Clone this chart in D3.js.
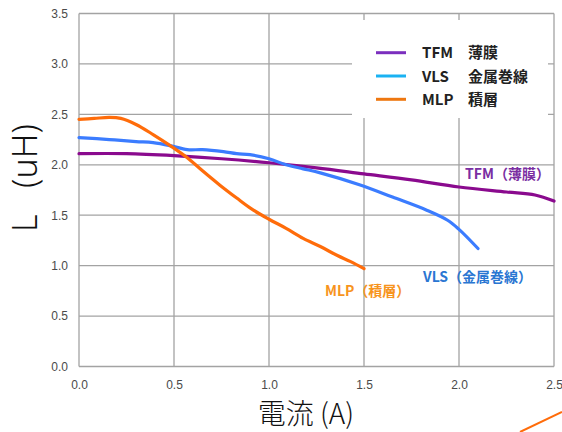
<!DOCTYPE html>
<html><head><meta charset="utf-8">
<script src="https://cdn.jsdelivr.net/npm/d3@7"></script>
<style>
html,body{margin:0;padding:0;background:#fff;overflow:hidden}
svg{display:block}
</style></head>
<body>
<svg id="chart" width="562" height="432"></svg>
<script>
// ---- data ----
const xTicks = [0, 0.5, 1.0, 1.5, 2.0, 2.5];
const yTicks = [0, 0.5, 1.0, 1.5, 2.0, 2.5, 3.0, 3.5];

const tfmX = [0, 0.25, 0.5, 0.75, 1.0, 1.25, 1.5, 1.75, 2.0, 2.25, 2.4, 2.5];
const tfmY = [2.11, 2.11, 2.09, 2.06, 2.02, 1.97, 1.91, 1.85, 1.78, 1.73, 1.70, 1.64];

const vlsX = [0, 0.16, 0.3, 0.39, 0.48, 0.57, 0.65, 0.76, 0.83, 0.9, 1.0, 1.09, 1.18, 1.27, 1.48, 1.65, 1.83, 1.94, 2.0, 2.1];
const vlsY = [2.27, 2.25, 2.23, 2.22, 2.19, 2.15, 2.15, 2.13, 2.11, 2.10, 2.06, 2.00, 1.96, 1.92, 1.80, 1.68, 1.55, 1.45, 1.36, 1.17];

const mlpX = [0, 0.08, 0.16, 0.22, 0.3, 0.39, 0.48, 0.57, 0.65, 0.74, 0.83, 0.91, 1.0, 1.09, 1.18, 1.27, 1.36, 1.43, 1.5];
const mlpY = [2.45, 2.46, 2.47, 2.46, 2.40, 2.30, 2.19, 2.07, 1.94, 1.80, 1.67, 1.56, 1.46, 1.37, 1.27, 1.19, 1.10, 1.04, 0.97];

const seriesNames = ["TFM", "VLS", "MLP"];
const seriesJa = ["薄膜", "金属巻線", "積層"];
const lineColors = ["#8a0a8e", "#3b7cff", "#ff6c0a"];
const legendColors = ["#7b2fbe", "#1ab2f2", "#ee7710"];
const labelColors = ["#7a2ea2", "#2a76d2", "#f7941d"];

// ---- chart ----
const svg = d3.select("#chart");
const x = d3.scaleLinear().domain([0, 2.5]).range([79, 554]);
const y = d3.scaleLinear().domain([0, 3.5]).range([366.5, 13.5]);

const gridColor = "#a3a3a3";
// grid
svg.append("g").selectAll("line").data(xTicks).join("line")
  .attr("x1", d => x(d)).attr("x2", d => x(d))
  .attr("y1", y(0)).attr("y2", y(3.5))
  .attr("stroke", gridColor).attr("stroke-width", 1.3);
svg.append("g").selectAll("line").data(yTicks).join("line")
  .attr("x1", x(0)).attr("x2", x(2.5))
  .attr("y1", d => y(d)).attr("y2", d => y(d))
  .attr("stroke", gridColor).attr("stroke-width", 1.3);

// tick labels via axes
const tickFont = "'Liberation Sans Narrow','Arial Narrow','Liberation Sans',sans-serif";
const xAxis = svg.append("g").attr("transform", `translate(0,${y(0)})`)
  .call(d3.axisBottom(x).tickValues(xTicks).tickFormat(d3.format(".1f")).tickSize(0).tickPadding(14));
const yAxis = svg.append("g").attr("transform", `translate(${x(0)},0)`)
  .call(d3.axisLeft(y).tickValues(yTicks).tickFormat(d3.format(".1f")).tickSize(0).tickPadding(11));
[xAxis, yAxis].forEach(a => {
  a.select(".domain").remove();
  a.selectAll("text").attr("font-family", tickFont).attr("font-size", 12).attr("fill", "#4a4a4a");
});

// legend box (white, covers grid)
svg.append("rect").attr("x", 352).attr("y", 20).attr("width", 196).attr("height", 98).attr("fill", "#fff");

// lines
const datasets = [
  tfmX.map((v, i) => [v, tfmY[i]]),
  vlsX.map((v, i) => [v, vlsY[i]]),
  mlpX.map((v, i) => [v, mlpY[i]])
];
const line = d3.line().x(d => x(d[0])).y(d => y(d[1])).curve(d3.curveCatmullRom.alpha(0.5));
svg.append("g").selectAll("path").data(datasets).join("path")
  .attr("d", line).attr("fill", "none")
  .attr("stroke", (d, i) => lineColors[i]).attr("stroke-width", 3.2)
  .attr("stroke-linejoin", "round").attr("stroke-linecap", "round");

// legend
const cjk = "'Noto Sans CJK JP','Noto Sans',sans-serif";
const leg = svg.append("g").selectAll("g").data(seriesNames).join("g")
  .attr("transform", (d, i) => `translate(0,${52.7 + i * 23.3})`);
leg.append("line").attr("x1", 376).attr("x2", 406).attr("y1", 0).attr("y2", 0)
  .attr("stroke", (d, i) => legendColors[i]).attr("stroke-width", 3);
leg.append("text").attr("x", 422).attr("y", 5.5).text(d => d)
  .attr("font-family", cjk).attr("font-weight", "bold").attr("font-size", 15).attr("fill", "#222");
leg.append("text").attr("x", 468).attr("y", 5.5).text((d, i) => seriesJa[i])
  .attr("font-family", cjk).attr("font-weight", "bold").attr("font-size", 15).attr("fill", "#222");

// in-plot labels
const labelPos = [[465, 178.5], [423, 282], [325, 295.5]];
svg.append("g").selectAll("text").data(seriesNames).join("text")
  .attr("x", (d, i) => labelPos[i][0]).attr("y", (d, i) => labelPos[i][1])
  .text((d, i) => `${d}（${seriesJa[i]}）`)
  .attr("font-family", cjk).attr("font-weight", "bold").attr("font-size", 14)
  .attr("fill", (d, i) => labelColors[i]);

// axis titles
svg.append("text").attr("x", 306).attr("y", 424).attr("text-anchor", "middle")
  .attr("font-family", cjk).attr("font-weight", 300).attr("font-size", 28).attr("fill", "#111")
  .text("電流 (A)");
svg.append("text").attr("transform", "translate(37,178) rotate(-90)").attr("text-anchor", "middle")
  .attr("font-family", "'Noto Sans',sans-serif").attr("font-weight", 300).attr("font-size", 34).attr("fill", "#111")
  .attr("xml:space", "preserve").style("white-space", "pre")
  .text("L   (uH)");

// decorative orange stroke at bottom-right corner
const W = 562, H = 432;
svg.append("line").attr("x1", W - 42).attr("y1", H).attr("x2", W).attr("y2", H - 20)
  .attr("stroke", "#ff6c0a").attr("stroke-width", 2);
</script>
</body></html>
